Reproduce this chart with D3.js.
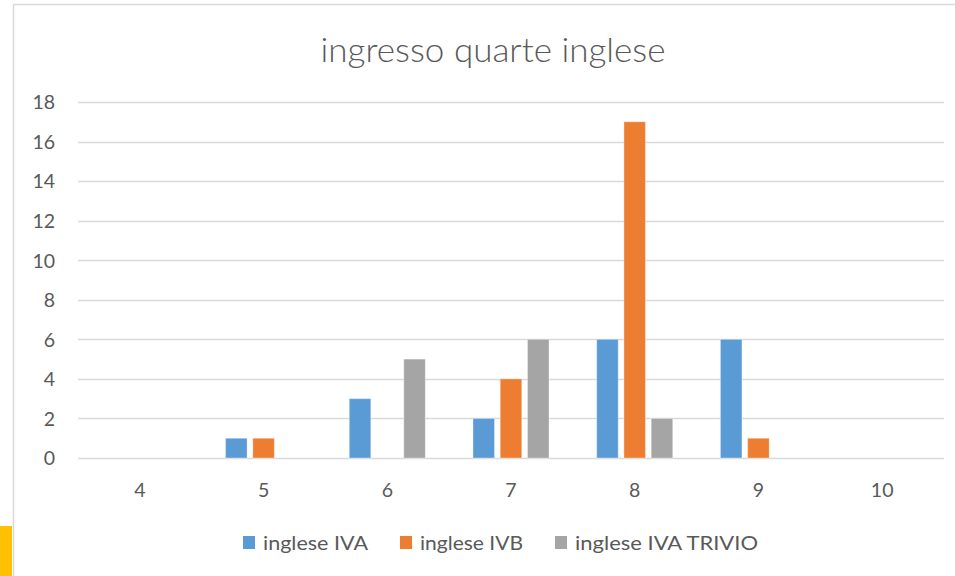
<!DOCTYPE html>
<html><head><meta charset="utf-8">
<script src="https://cdn.jsdelivr.net/npm/d3@7"></script>
<style>body{margin:0;background:#fff;overflow:hidden}</style>
</head><body>
<svg id="c" width="955" height="576"></svg>
<script>
const title = "ingresso quarte inglese";
const categories = ["4","5","6","7","8","9","10"];
const seriesNames = ["inglese IVA","inglese IVB","inglese IVA TRIVIO"];
const seriesColors = ["#5B9BD5","#ED7D31","#A5A5A5"];
const valuesIVA = [0,1,3,2,6,6,0];
const valuesIVB = [0,1,0,4,17,1,0];
const valuesTrivio = [0,0,5,6,2,0,0];
const yTicks = [0,2,4,6,8,10,12,14,16,18];

const series = [valuesIVA, valuesIVB, valuesTrivio];
const svg = d3.select("#c");
const font = "Lato, 'Open Sans', sans-serif";

// yellow marker and outer border
svg.append("rect").attr("x",0).attr("y",526).attr("width",12).attr("height",50).attr("fill","#FFC000");
svg.append("rect").attr("x",13.5).attr("y",4.5).attr("width",1000).attr("height",1000)
  .attr("fill","none").attr("stroke","#d9d9d9").attr("stroke-width",1.5);

const pL=78, pR=944, pT=102, pB=458;
const x = d3.scaleBand().domain(categories).range([pL,pR]).padding(0);
const y = d3.scaleLinear().domain([0,18]).range([pB,pT]);
const x1 = d3.scaleBand().domain(d3.range(3)).range([0,x.bandwidth()]).paddingInner(0.21).paddingOuter(0.875);

// gridlines
svg.append("g").selectAll("line").data(yTicks).join("line")
  .attr("x1",pL).attr("x2",pR).attr("y1",d=>Math.round(y(d))+0.5).attr("y2",d=>Math.round(y(d))+0.5)
  .attr("stroke","#d9d9d9").attr("stroke-width",1.3);

// y axis labels
const yAxis = d3.axisLeft(y).tickValues(yTicks).tickSize(0).tickPadding(0);
const ya = svg.append("g").attr("transform",`translate(55,0)`).call(yAxis);
ya.select(".domain").remove();
ya.selectAll("text").attr("font-family",font).attr("font-size",19.5).attr("fill","#595959").attr("dy","0.35em");

// x axis labels
const xAxis = d3.axisBottom(x).tickSize(0).tickPadding(0);
const xa = svg.append("g").attr("transform",`translate(0,${pB+25})`).call(xAxis);
xa.select(".domain").remove();
xa.selectAll("text").attr("font-family",font).attr("font-size",19.5).attr("fill","#595959");

// bars
series.forEach((vals,si)=>{
  svg.append("g").selectAll("rect").data(vals.map((v,i)=>({c:categories[i],v})).filter(d=>d.v>0)).join("rect")
    .attr("x",d=>x(d.c)+x1(si))
    .attr("width",x1.bandwidth())
    .attr("y",d=>y(d.v))
    .attr("height",d=>y(0)-y(d.v))
    .attr("fill",seriesColors[si])
    .attr("stroke","#ffffff").attr("stroke-opacity",0.35).attr("stroke-width",1);
});

// title
svg.append("text").attr("x",493).attr("y",62).attr("text-anchor","middle")
  .attr("font-family",font).attr("font-weight",300).attr("font-size",34).attr("fill","#595959")
  .attr("textLength",345).attr("lengthAdjust","spacingAndGlyphs").text(title);

// legend
const legX = [243,400,555];
const legW = [105,103,183];
const lg = svg.append("g");
seriesNames.forEach((n,i)=>{
  lg.append("rect").attr("x",legX[i]).attr("y",536).attr("width",12).attr("height",13).attr("fill",seriesColors[i]);
  lg.append("text").attr("x",legX[i]+20).attr("y",550).attr("font-family",font).attr("font-size",18.5)
    .attr("fill","#595959").attr("textLength",legW[i]).attr("lengthAdjust","spacingAndGlyphs").text(n);
});
</script>
</body></html>
